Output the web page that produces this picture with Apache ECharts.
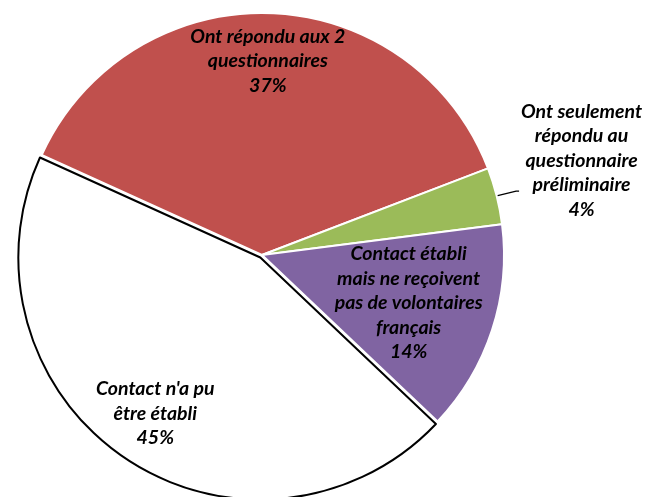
<!DOCTYPE html>
<html>
<head>
<meta charset="utf-8">
<script src="https://cdn.jsdelivr.net/npm/echarts@6/dist/echarts.min.js"></script>
<style>
html,body{margin:0;padding:0;background:#fff;}
#chart{width:664px;height:497px;}
</style>
</head>
<body>
<div id="chart"></div>
<script>
// ---- data ----
const categories = [
  "Ont répondu aux 2\nquestionnaires",
  "Ont seulement\nrépondu au\nquestionnaire\npréliminaire",
  "Contact établi\nmais ne reçoivent\npas de volontaires\nfrançais",
  "Contact n'a pu\nêtre établi"
];
const values = [37.4, 3.8, 14.1, 44.7];

// ---- layout / style ----
const CX = 262, CY = 255, R = 242, START = 155.6;
const sliceColors = ['#C0504D', '#9BBB59', '#8064A2', '#FFFFFF'];
const labelFactor = [0.79, null, 0.625, 0.765];
const total = values.reduce((a, b) => a + b, 0);
const FONT = 'Lato';
const FS = 19.5;
const LH = 24.5;

const chart = echarts.init(document.getElementById('chart'), null, {renderer: 'canvas'});

const data = categories.map((name, i) => {
  const item = {
    name: name,
    value: values[i],
    itemStyle: {
      color: sliceColors[i],
      borderColor: i === 3 ? '#000000' : '#FFFFFF',
      borderWidth: 2
    }
  };
  if (i === 3) item.selected = true;
  if (i === 1) {
    item.label = {
      position: 'outside',
      formatter: function (p) {
        return p.name.split('\n').concat([p.percent + '%']).map(s => '{c|' + s + '}').join('\n');
      },
      padding: [0, 0, 61, 0],
      distanceToLabelLine: 2,
      rich: {
        c: {
          align: 'center',
          fontFamily: FONT,
          fontSize: FS,
          fontWeight: 'bold',
          fontStyle: 'italic',
          color: '#000',
          lineHeight: LH
        }
      }
    };
    item.labelLine = {show: true, length: 20, length2: 3, lineStyle: {color: '#000', width: 1.3}};
  }
  return item;
});

const option = {
  animation: false,
  backgroundColor: '#fff',
  series: [{
    type: 'pie',
    center: [CX, CY],
    radius: R,
    startAngle: START,
    clockwise: true,
    selectedMode: 'single',
    selectedOffset: 3,
    avoidLabelOverlap: false,
    percentPrecision: 0,
    emphasis: {disabled: true},
    label: {
      show: true,
      position: 'inside',
      formatter: '{b}\n{d}%',
      fontFamily: FONT,
      fontSize: FS,
      fontWeight: 'bold',
      fontStyle: 'italic',
      color: '#000',
      lineHeight: LH,
      align: 'center'
    },
    labelLine: {show: false},
    labelLayout: function (p) {
      const idx = p.dataIndex;
      const f = labelFactor[idx];
      if (!f) return {};
      let acc = 0;
      for (let i = 0; i < idx; i++) acc += values[i];
      const mid = (START - (acc + values[idx] / 2) / total * 360) * Math.PI / 180;
      return {
        dx: (f - 0.5) * R * Math.cos(mid),
        dy: -(f - 0.5) * R * Math.sin(mid)
      };
    },
    data: data
  }]
};
chart.setOption(option);
</script>
</body>
</html>
